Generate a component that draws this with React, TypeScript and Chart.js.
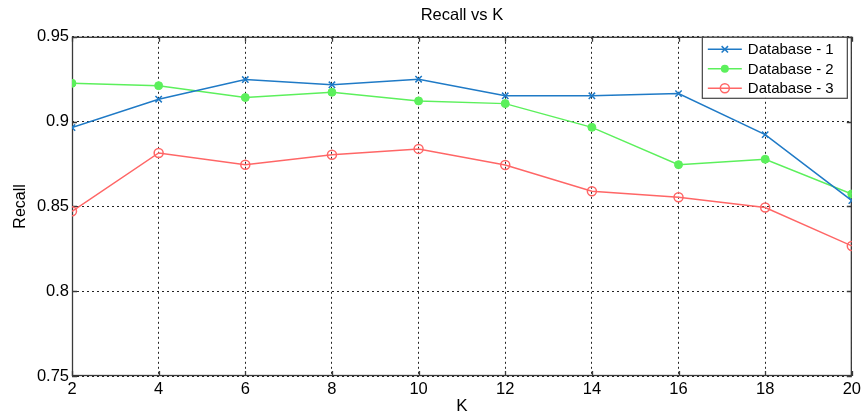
import React, { useEffect, useRef } from "react";
import { Chart, registerables } from "chart.js";

Chart.register(...registerables);

// Neighbourhood sizes K and the recall measured for each database
const kValues = [2, 4, 6, 8, 10, 12, 14, 16, 18, 20];
const recallDb1 = [0.8965, 0.9132, 0.9248, 0.9217, 0.925, 0.9152, 0.9152, 0.9165, 0.8923, 0.8534];
const recallDb2 = [0.9226, 0.9212, 0.9142, 0.9173, 0.9122, 0.9106, 0.8966, 0.8746, 0.8778, 0.8573];
const recallDb3 = [0.8471, 0.8815, 0.8746, 0.8805, 0.8839, 0.8744, 0.8589, 0.8554, 0.8493, 0.8267];

const seriesNames = ["Database - 1", "Database - 2", "Database - 3"];
const seriesColors = ["#1f7ac6", "#5cf05c", "#ff6666"];

const yTickValues = [0.75, 0.8, 0.85, 0.9, 0.95];
const yTickLabels = ["0.75", "0.8", "0.85", "0.9", "0.95"];

const FONT = "'Liberation Sans', Arial, Helvetica, sans-serif";

const toPoints = (ys: number[]) => kValues.map((k, i) => ({ x: k, y: ys[i] }));

// Box around the axes with small inward tick marks on all four sides
const framePlugin = {
  id: "axesFrame",
  beforeDatasetsDraw(chart: any) {
    const { ctx, chartArea } = chart;
    const { left, right, top, bottom } = chartArea;
    const xs = chart.scales.x;
    const ys = chart.scales.y;
    ctx.save();
    ctx.strokeStyle = "#3a3a3a";
    ctx.lineWidth = 1.3;
    ctx.setLineDash([]);
    ctx.strokeRect(left + 0.5, top + 0.5, right - left - 1, bottom - top - 1);
    const t = 5;
    ctx.beginPath();
    kValues.forEach((k) => {
      const px = Math.round(xs.getPixelForValue(k)) + 0.5;
      ctx.moveTo(px, bottom);
      ctx.lineTo(px, bottom - t);
      ctx.moveTo(px, top);
      ctx.lineTo(px, top + t);
    });
    yTickValues.forEach((v) => {
      const py = Math.round(ys.getPixelForValue(v)) + 0.5;
      ctx.moveTo(left, py);
      ctx.lineTo(left + t, py);
      ctx.moveTo(right, py);
      ctx.lineTo(right - t, py);
    });
    ctx.stroke();
    ctx.restore();
  },
};

function drawMarker(ctx: CanvasRenderingContext2D, style: string, cx: number, cy: number, color: string) {
  ctx.save();
  ctx.strokeStyle = color;
  ctx.fillStyle = color;
  ctx.lineWidth = 1.5;
  if (style === "crossRot") {
    const d = 3.2;
    ctx.beginPath();
    ctx.moveTo(cx - d, cy - d);
    ctx.lineTo(cx + d, cy + d);
    ctx.moveTo(cx + d, cy - d);
    ctx.lineTo(cx - d, cy + d);
    ctx.stroke();
  } else if (style === "filled") {
    ctx.beginPath();
    ctx.arc(cx, cy, 4, 0, Math.PI * 2);
    ctx.fill();
  } else {
    ctx.beginPath();
    ctx.arc(cx, cy, 4.5, 0, Math.PI * 2);
    ctx.stroke();
  }
  ctx.restore();
}

// Legend box placed inside the top-right corner of the axes
const legendPlugin = {
  id: "insideLegend",
  afterDraw(chart: any) {
    const { ctx, chartArea } = chart;
    const boxW = 145;
    const boxH = 61;
    const boxRight = chartArea.right - 5;
    const boxLeft = boxRight - boxW;
    const boxTop = chartArea.top;
    const markers = ["crossRot", "filled", "open"];
    ctx.save();
    ctx.fillStyle = "#fff";
    ctx.fillRect(boxLeft, boxTop, boxW, boxH);
    ctx.strokeStyle = "#444";
    ctx.lineWidth = 1.2;
    ctx.strokeRect(boxLeft + 0.5, boxTop + 0.5, boxW, boxH);
    ctx.font = `15px ${FONT}`;
    ctx.textBaseline = "middle";
    ctx.textAlign = "left";
    seriesNames.forEach((name, i) => {
      const cy = boxTop + 12.5 + i * 19.5;
      const color = seriesColors[i];
      ctx.strokeStyle = color;
      ctx.lineWidth = 1.5;
      ctx.beginPath();
      ctx.moveTo(boxLeft + 6, cy);
      ctx.lineTo(boxLeft + 40, cy);
      ctx.stroke();
      drawMarker(ctx, markers[i], boxLeft + 23, cy, color);
      ctx.fillStyle = "#000";
      ctx.fillText(name, boxLeft + 46, cy + 1);
    });
    ctx.restore();
  },
};

export default function App() {
  const canvasRef = useRef<HTMLCanvasElement | null>(null);

  useEffect(() => {
    const canvas = canvasRef.current;
    if (!canvas) return;
    const chart = new Chart(canvas, {
      type: "line",
      data: {
        datasets: [
          {
            label: seriesNames[0],
            data: toPoints(recallDb1),
            borderColor: seriesColors[0],
            backgroundColor: seriesColors[0],
            borderWidth: 1.5,
            pointStyle: "crossRot",
            pointRadius: 4.5,
            pointBorderWidth: 1.5,
            pointBorderColor: seriesColors[0],
            tension: 0,
          },
          {
            label: seriesNames[1],
            data: toPoints(recallDb2),
            borderColor: seriesColors[1],
            backgroundColor: seriesColors[1],
            borderWidth: 1.5,
            pointStyle: "circle",
            pointRadius: 4,
            pointBorderWidth: 1,
            pointBackgroundColor: seriesColors[1],
            pointBorderColor: seriesColors[1],
            tension: 0,
          },
          {
            label: seriesNames[2],
            data: toPoints(recallDb3),
            borderColor: seriesColors[2],
            backgroundColor: "rgba(0,0,0,0)",
            borderWidth: 1.5,
            pointStyle: "circle",
            pointRadius: 4.5,
            pointBorderWidth: 1.5,
            pointBackgroundColor: "rgba(0,0,0,0)",
            pointBorderColor: seriesColors[2],
            tension: 0,
          },
        ],
      },
      options: {
        animation: false,
        responsive: false,
        maintainAspectRatio: false,
        events: [],
        layout: { padding: { top: 0, right: 12, left: 0, bottom: 0 } },
        plugins: {
          legend: { display: false },
          tooltip: { enabled: false },
          title: {
            display: true,
            fullSize: false,
            text: "Recall vs K",
            color: "#000",
            font: { family: FONT, size: 16.5, weight: "normal" },
            padding: { top: 6, bottom: 11 },
          },
        },
        scales: {
          x: {
            type: "linear",
            min: 2,
            max: 20,
            afterBuildTicks: (scale: any) => {
              scale.ticks = kValues.map((v) => ({ value: v }));
            },
            afterFit: (scale: any) => {
              scale.height = 42;
            },
            ticks: {
              color: "#000",
              font: { family: FONT, size: 16.5 },
              padding: 4,
              maxRotation: 0,
              autoSkip: false,
              callback: (v: any) => String(v),
            },
            grid: { color: "#222", lineWidth: 1, drawTicks: false },
            border: { display: false, dash: [2, 3] },
            title: {
              display: true,
              text: "K",
              color: "#000",
              font: { family: FONT, size: 17 },
              padding: { top: 0, bottom: 1 },
            },
          },
          y: {
            type: "linear",
            min: 0.75,
            max: 0.95,
            afterBuildTicks: (scale: any) => {
              scale.ticks = yTickValues.map((v) => ({ value: v }));
            },
            afterFit: (scale: any) => {
              scale.width = 72;
            },
            ticks: {
              color: "#000",
              font: { family: FONT, size: 16.5 },
              padding: 3,
              autoSkip: false,
              callback: (v: any) => {
                const i = yTickValues.findIndex((t) => Math.abs(t - Number(v)) < 1e-9);
                return i >= 0 ? yTickLabels[i] : "";
              },
            },
            grid: { color: "#222", lineWidth: 1, drawTicks: false },
            border: { display: false, dash: [2, 3] },
            title: {
              display: true,
              text: "Recall",
              color: "#000",
              font: { family: FONT, size: 16 },
              padding: { top: 11, bottom: 0 },
            },
          },
        },
      },
      plugins: [framePlugin, legendPlugin],
    } as any);
    return () => chart.destroy();
  }, []);

  return (
    <div style={{ position: "absolute", left: 0, top: 0, width: 865, height: 418, background: "#fff" }}>
      <canvas ref={canvasRef} width={865} height={418} style={{ display: "block" }} />
    </div>
  );
}
